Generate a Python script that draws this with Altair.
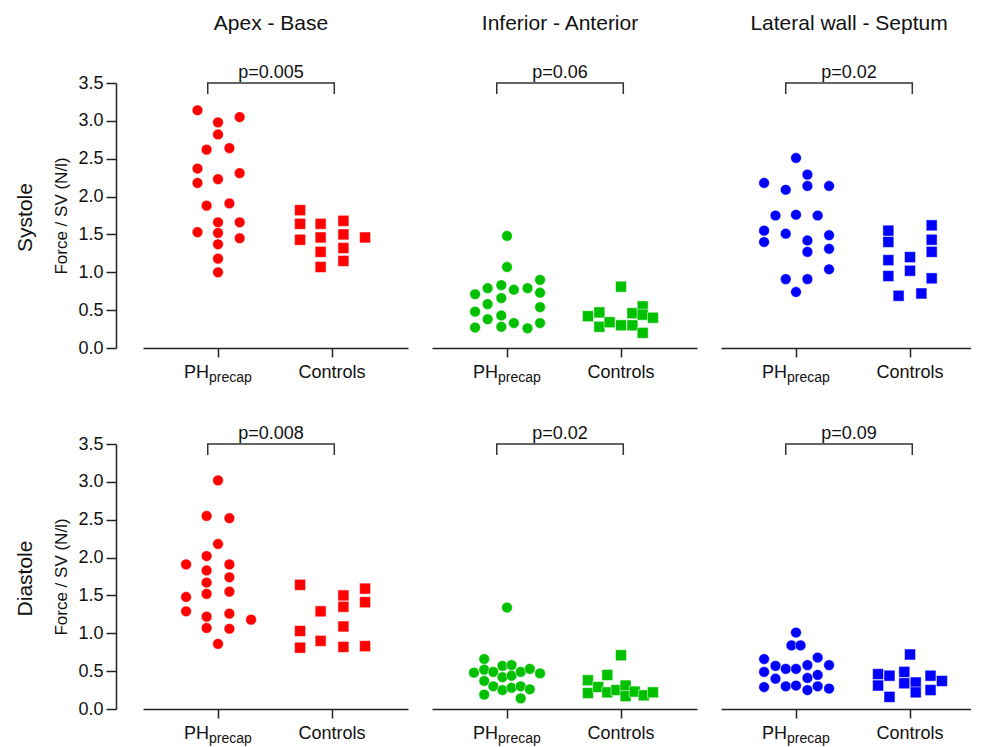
import altair as alt
import pandas as pd

FONT = "Liberation Sans"
H = 265
PXU = 114.0
XMIN = -0.658
WIDTHS = [265, 265, 250]

titles = ["Apex - Base", "Inferior - Anterior", "Lateral wall - Septum"]
row_labels = ["Systole", "Diastole"]
colors = ["#FF0000", "#00C000", "#0000FF"]
p_texts = [["p=0.005", "p=0.06", "p=0.02"], ["p=0.008", "p=0.02", "p=0.09"]]
y_ticks = [0.0, 0.5, 1.0, 1.5, 2.0, 2.5, 3.0, 3.5]

# ---------------- Systole ----------------
sys_apex_ph = [3.14, 2.98, 3.05, 2.82, 2.62, 2.64, 2.37, 2.31, 2.18, 2.23,
               1.88, 1.91, 1.66, 1.66, 1.53, 1.52, 1.45, 1.37, 1.18, 1.00]
sys_apex_ph_jit = [-0.18, 0, 0.19, 0, -0.10, 0.10, -0.18, 0.19, -0.18, 0,
                   -0.10, 0.10, 0, 0.19, -0.18, 0, 0.19, 0, 0, 0]
sys_apex_ct = [1.82, 1.64, 1.43, 1.64, 1.46, 1.27, 1.07, 1.68, 1.50, 1.32, 1.15, 1.46]
sys_apex_ct_jit = [-0.28, -0.28, -0.28, -0.10, -0.10, -0.10, -0.10, 0.10, 0.10, 0.10, 0.10, 0.29]

sys_inf_ph = [1.48, 1.07, 0.71, 0.79, 0.83, 0.77, 0.79, 0.90, 0.73, 0.66,
              0.58, 0.48, 0.54, 0.43, 0.38, 0.27, 0.28, 0.33, 0.26, 0.33]
sys_inf_ph_jit = [0, 0, -0.28, -0.17, -0.05, 0.06, 0.18, 0.29, 0.29, -0.05,
                  -0.17, -0.28, 0.29, -0.05, -0.17, -0.28, -0.05, 0.06, 0.18, 0.29]
sys_inf_ct = [0.81, 0.42, 0.47, 0.28, 0.34, 0.30, 0.46, 0.30, 0.55, 0.44, 0.20, 0.40]
sys_inf_ct_jit = [0, -0.29, -0.19, -0.19, -0.10, 0, 0.10, 0.10, 0.19, 0.19, 0.19, 0.28]

sys_lat_ph = [2.51, 2.29, 2.18, 2.09, 2.14, 2.14, 1.75, 1.76, 1.75, 1.55,
              1.51, 1.49, 1.40, 1.42, 1.27, 1.31, 1.04, 0.91, 0.91, 0.74]
sys_lat_ph_jit = [0, 0.10, -0.28, -0.09, 0.10, 0.29, -0.18, 0, 0.19, -0.28,
                  -0.09, 0.29, -0.28, 0.10, 0.10, 0.29, 0.29, -0.09, 0.10, 0]
sys_lat_ct = [1.55, 1.40, 1.16, 0.95, 1.20, 1.02, 0.69, 0.72, 1.62, 1.43, 1.27, 0.92]
sys_lat_ct_jit = [-0.19, -0.19, -0.19, -0.19, 0, 0, -0.10, 0.10, 0.19, 0.19, 0.19, 0.19]

# ---------------- Diastole ----------------
dia_apex_ph = [3.02, 2.55, 2.52, 2.18, 2.02, 1.91, 1.91, 1.83, 1.74, 1.67,
               1.48, 1.52, 1.55, 1.29, 1.22, 1.26, 1.18, 1.07, 1.06, 0.86]
dia_apex_ph_jit = [0, -0.10, 0.10, 0, -0.10, -0.28, 0.10, -0.10, 0.10, -0.10,
                   -0.28, -0.10, 0.10, -0.28, -0.10, 0.10, 0.29, -0.10, 0.10, 0]
dia_apex_ct = [1.64, 1.03, 0.81, 1.29, 0.90, 1.50, 1.35, 1.09, 0.82, 1.59, 1.41, 0.83]
dia_apex_ct_jit = [-0.28, -0.28, -0.28, -0.10, -0.10, 0.10, 0.10, 0.10, 0.10, 0.29, 0.29, 0.29]

dia_inf_ph = [1.34, 0.66, 0.57, 0.58, 0.48, 0.52, 0.49, 0.42, 0.44, 0.49,
              0.53, 0.47, 0.37, 0.30, 0.25, 0.28, 0.30, 0.26, 0.19, 0.14]
dia_inf_ph_jit = [0, -0.20, -0.04, 0.04, -0.29, -0.20, -0.12, -0.04, 0.04, 0.12,
                  0.20, 0.29, -0.20, -0.12, -0.04, 0.04, 0.12, 0.20, -0.20, 0.12]
dia_inf_ct = [0.71, 0.45, 0.38, 0.21, 0.29, 0.22, 0.25, 0.31, 0.17, 0.23, 0.18, 0.22]
dia_inf_ct_jit = [0, -0.12, -0.29, -0.29, -0.20, -0.12, -0.04, 0.04, 0.04, 0.12, 0.20, 0.28]

dia_lat_ph = [1.01, 0.84, 0.84, 0.66, 0.68, 0.57, 0.58, 0.58, 0.49, 0.53,
              0.53, 0.45, 0.40, 0.41, 0.29, 0.30, 0.31, 0.25, 0.30, 0.27]
dia_lat_ph_jit = [0, -0.04, 0.04, -0.28, 0.19, -0.18, 0.10, 0.29, -0.28, -0.09,
                  0, 0.19, -0.18, 0.10, -0.28, -0.09, 0, 0.10, 0.19, 0.29]
dia_lat_ct = [0.72, 0.46, 0.31, 0.44, 0.16, 0.49, 0.34, 0.35, 0.22, 0.44, 0.25, 0.37]
dia_lat_ct_jit = [0, -0.28, -0.28, -0.18, -0.18, -0.05, -0.05, 0.05, 0.05, 0.18, 0.18, 0.28]

panels = [
    [(sys_apex_ph, sys_apex_ph_jit, sys_apex_ct, sys_apex_ct_jit),
     (sys_inf_ph, sys_inf_ph_jit, sys_inf_ct, sys_inf_ct_jit),
     (sys_lat_ph, sys_lat_ph_jit, sys_lat_ct, sys_lat_ct_jit)],
    [(dia_apex_ph, dia_apex_ph_jit, dia_apex_ct, dia_apex_ct_jit),
     (dia_inf_ph, dia_inf_ph_jit, dia_inf_ct, dia_inf_ct_jit),
     (dia_lat_ph, dia_lat_ph_jit, dia_lat_ct, dia_lat_ct_jit)],
]

BR_L, BR_R, BR_TOP, BR_BOT = -0.09, 1.02, 3.5, 3.355
BR_MID = (BR_L + BR_R) / 2


def make_panel(r, c):
    ph, phj, ct, ctj = panels[r][c]
    color = colors[c]
    width = WIDTHS[c]
    xdom = [XMIN, XMIN + width / PXU]
    left = c == 0

    if left:
        yaxis = alt.Axis(values=y_ticks, format=".1f", title="Force / SV (N/l)",
                         titleFontSize=17, titlePadding=7,
                         labelFontSize=18, labelPadding=3, tickSize=10,
                         offset=27, grid=False, labelOverlap=False)
    else:
        yaxis = None

    xenc = alt.X("x:Q", scale=alt.Scale(domain=xdom, nice=False, zero=False),
                 axis=alt.Axis(values=[0, 1], labels=False, title=None, grid=False,
                               tickSize=9))
    yenc = alt.Y("y:Q", scale=alt.Scale(domain=[0, 3.5], nice=False, zero=False),
                 axis=yaxis)

    df_ph = pd.DataFrame({"x": [0 + j for j in phj], "y": ph})
    df_ct = pd.DataFrame({"x": [1 + j for j in ctj], "y": ct})

    circles = alt.Chart(df_ph).mark_point(
        shape="circle", filled=True, fill=color, stroke="white", strokeWidth=0.5,
        size=115, opacity=1).encode(x=xenc, y=yenc)
    squares = alt.Chart(df_ct).mark_point(
        shape="square", filled=True, fill=color, stroke="white", strokeWidth=0.5,
        size=120, opacity=1).encode(x=xenc, y=yenc)

    br = pd.DataFrame({"x": [BR_L, BR_L, BR_R, BR_R],
                       "y": [BR_BOT, BR_TOP, BR_TOP, BR_BOT],
                       "o": [0, 1, 2, 3]})
    bracket = alt.Chart(br).mark_line(color="#333", strokeWidth=1.5).encode(
        x=xenc, y=yenc, order="o:Q")

    ptext = alt.Chart(pd.DataFrame({"x": [BR_MID], "y": [BR_TOP], "t": [p_texts[r][c]]})).mark_text(
        font=FONT, fontSize=18, color="#111", baseline="alphabetic", dy=-5
    ).encode(x=xenc, y=yenc, text="t:N")

    lab_ph = alt.Chart(pd.DataFrame({"x": [0], "t": ["PH"]})).mark_text(
        font=FONT, fontSize=18, color="#111", align="left", baseline="alphabetic", dx=-34
    ).encode(x=xenc, y=alt.value(H + 30), text="t:N")
    lab_sub = alt.Chart(pd.DataFrame({"x": [0], "t": ["precap"]})).mark_text(
        font=FONT, fontSize=14, color="#111", align="left", baseline="alphabetic", dx=-9
    ).encode(x=xenc, y=alt.value(H + 34), text="t:N")
    lab_ct = alt.Chart(pd.DataFrame({"x": [1], "t": ["Controls"]})).mark_text(
        font=FONT, fontSize=18, color="#111", align="center", baseline="alphabetic"
    ).encode(x=xenc, y=alt.value(H + 30), text="t:N")

    layers = [circles, squares, bracket, ptext, lab_ph, lab_sub, lab_ct]

    if r == 0:
        ttl = alt.Chart(pd.DataFrame({"x": [BR_MID], "t": [titles[c]]})).mark_text(
            font=FONT, fontSize=21, color="#111", align="center", baseline="alphabetic"
        ).encode(x=xenc, y=alt.value(-53), text="t:N")
        layers.append(ttl)
    if left:
        rl = alt.Chart(pd.DataFrame({"t": [row_labels[r]]})).mark_text(
            font=FONT, fontSize=21, color="#111", align="center", baseline="middle", angle=270
        ).encode(x=alt.value(-117), y=alt.value(H / 2 + 2), text="t:N")
        layers.append(rl)

    return alt.layer(*layers).properties(width=width, height=H)


chart = alt.concat(
    *[make_panel(r, c) for r in range(2) for c in range(3)],
    columns=3, spacing={"row": 96, "column": 24}, bounds="flush"
).properties(
    padding={"left": 7, "top": 5, "right": 0, "bottom": 0},
    background="white",
).configure_view(
    stroke=None
).configure_axis(
    labelFont=FONT, labelColor="#111", labelFontSize=18,
    titleFont=FONT, titleColor="#111", titleFontWeight="normal",
    tickColor="#222", tickWidth=1.5, domainColor="#222", domainWidth=1.5,
    grid=False
)

chart.save("out.html", embed_options={"renderer": "svg", "actions": False})
